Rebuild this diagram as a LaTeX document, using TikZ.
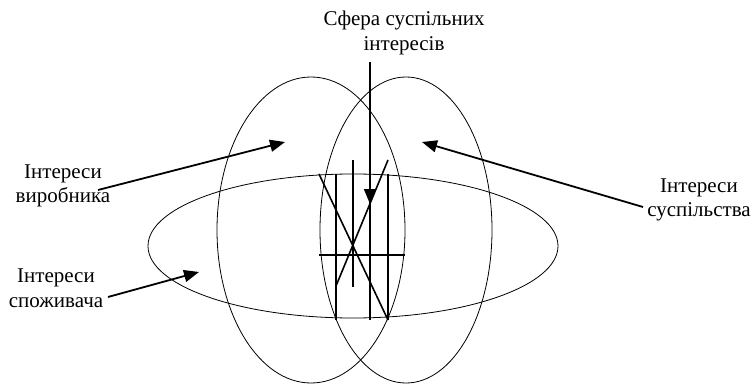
\documentclass[tikz,border=0pt]{standalone}
\usepackage{fontspec}
\setmainfont{Liberation Serif}
\usetikzlibrary{arrows.meta,shapes.geometric}
\begin{document}
\begin{tikzpicture}[x=1pt,y=-1pt,
  lbl/.style={align=center,font=\fontsize{21}{24.5}\selectfont,inner sep=0pt},
  ell/.style={draw,ellipse,line width=0.8pt,inner sep=0pt},
  hatch/.style={line width=1.6pt},
  arr/.style={line width=1.8pt,-{Triangle[length=15pt,width=12pt]}}]
\useasboundingbox (0,0) rectangle (755,385);
% ellipses
\node[ell,minimum width=188pt,minimum height=306pt] (eL) at (311,230) {};
\node[ell,minimum width=172pt,minimum height=306pt] (eR) at (406,230) {};
\node[ell,minimum width=410pt,minimum height=144pt] (eH) at (353,246) {};
% hatch lines
\coordinate (v1t) at (336,174); \coordinate (v1b) at (336,320);
\coordinate (v2t) at (353,160); \coordinate (v2b) at (353,287);
\coordinate (v3t) at (370,174); \coordinate (v3b) at (370,320);
\coordinate (v4t) at (388,174); \coordinate (v4b) at (388,320);
\coordinate (d1t) at (319,174); \coordinate (d1b) at (388,320);
\coordinate (d2t) at (388,160); \coordinate (d2b) at (336,286);
\coordinate (hl) at (319,255); \coordinate (hr) at (405,255);
\draw[hatch] (v1t) -- (v1b);
\draw[hatch] (v2t) -- (v2b);
\draw[hatch] (v3t) -- (v3b);
\draw[hatch] (v4t) -- (v4b);
\draw[hatch] (d1t) -- (d1b);
\draw[hatch] (d2t) -- (d2b);
\draw[hatch] (hl) -- (hr);
% labels
\node[lbl] (sfera) at (404,33) {Сфера суспільних\\інтересів};
\node[lbl] (vyr) at (63,186) {Інтереси\\виробника};
\node[lbl] (spo) at (56,288) {Інтереси\\споживача};
\node[lbl] (sus) at (699,200) {Інтереси\\суспільства};
% arrows
\coordinate (a0s) at (370,62); \coordinate (a0e) at (370,204);
\coordinate (a1s) at (98,190); \coordinate (a1e) at (285,142);
\coordinate (a2s) at (108,297); \coordinate (a2e) at (199,272);
\coordinate (a3s) at (643,207); \coordinate (a3e) at (422,142);
\draw[arr] (a0s) -- (a0e);
\draw[arr] (a1s) -- (a1e);
\draw[arr] (a2s) -- (a2e);
\draw[arr] (a3s) -- (a3e);
\end{tikzpicture}
\end{document}
